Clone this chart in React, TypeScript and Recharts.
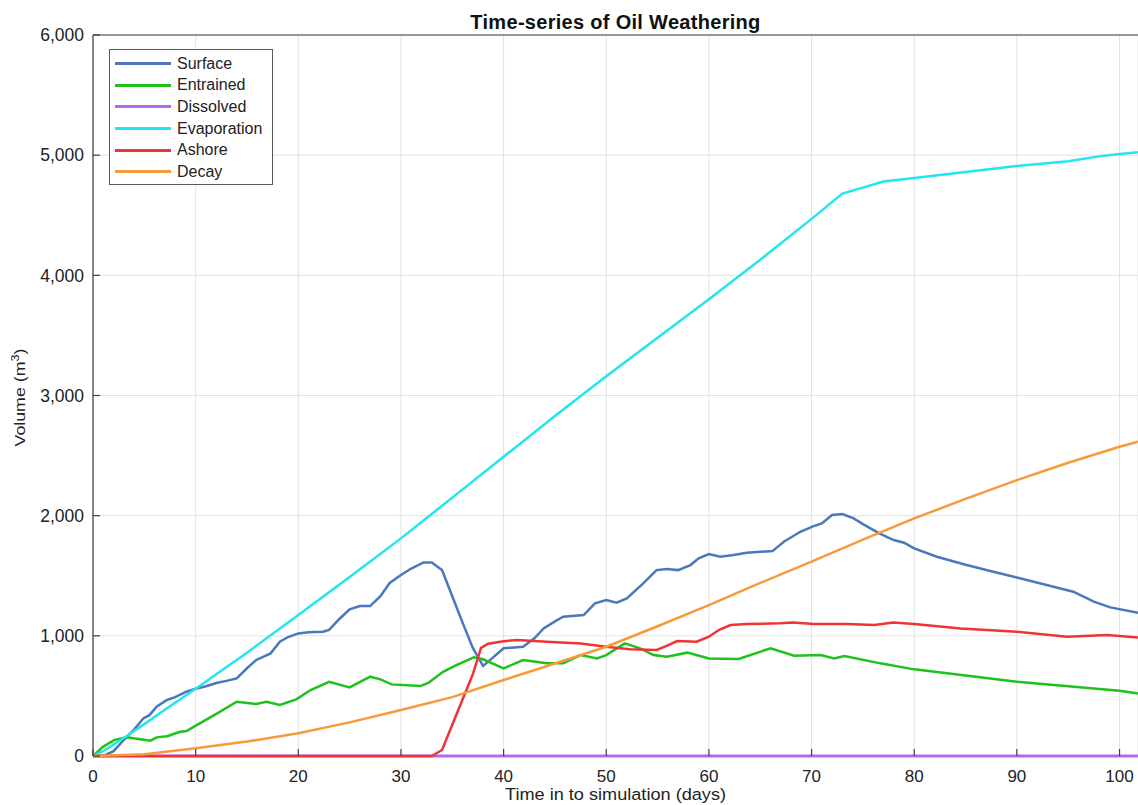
import { LineChart, Line, XAxis, YAxis, CartesianGrid, Legend, ReferenceLine, Label } from 'recharts';

// days / volumes (m3), per series
const surfaceDays = [0, 1, 2, 3, 4, 4.9, 5.5, 6.2, 7.2, 8, 9.1, 10, 11, 12.1, 13, 14, 15, 15.9, 17.3, 18.2, 19, 20, 21, 22.4, 23, 24, 25, 26, 27, 28, 28.9, 30, 31, 32.2, 33, 34, 35, 36, 37, 38, 38.7, 40, 41.9, 43, 43.9, 45, 45.8, 47.8, 48.9, 50, 51, 52, 53.6, 54.9, 55.9, 57, 58.2, 59, 60, 61.1, 62.4, 63.7, 65, 66.2, 67.3, 68.9, 70.2, 71, 72, 73, 74.1, 75, 76.6, 78, 79, 80, 82.2, 85.1, 87.7, 90, 92.9, 95.5, 97.5, 99.1, 101.8];
const surfaceVol = [0, 0, 40, 133, 220, 313, 340, 410, 466, 490, 535, 560, 580, 610, 625, 646, 730, 799, 854, 951, 990, 1020, 1030, 1034, 1050, 1140, 1220, 1248, 1248, 1330, 1440, 1506, 1560, 1611, 1611, 1547, 1330, 1110, 900, 750, 800, 896, 909, 980, 1062, 1120, 1159, 1173, 1270, 1298, 1276, 1312, 1437, 1547, 1556, 1547, 1589, 1645, 1680, 1658, 1672, 1691, 1700, 1705, 1783, 1866, 1913, 1936, 2005, 2013, 1977, 1930, 1853, 1797, 1775, 1728, 1658, 1589, 1533, 1486, 1423, 1367, 1284, 1237, 1192];

const entrainedDays = [0, 1, 2.1, 3.3, 4.6, 5.6, 6.2, 7.2, 8.5, 9.1, 10.4, 12.1, 14, 15.9, 16.9, 18.2, 19.8, 21.2, 23, 25, 27, 28, 29.1, 31.9, 32.7, 34.1, 35.4, 37.1, 38, 40, 41.9, 44.2, 45.8, 47.5, 49.1, 50, 51.8, 53.3, 54.6, 55.9, 57.9, 60, 62.9, 66, 68.3, 70.9, 72.2, 73.2, 76.7, 80, 90, 100, 101.8];
const entrainedVol = [0, 78, 133, 155, 139, 128, 155, 165, 202, 208, 272, 355, 452, 432, 452, 424, 471, 549, 618, 571, 660, 638, 596, 582, 610, 701, 757, 821, 805, 729, 799, 771, 771, 840, 812, 840, 937, 896, 840, 826, 860, 812, 808, 896, 835, 840, 812, 832, 771, 721, 618, 543, 521];

const dissolvedDays = [0, 20, 40, 60, 80, 101.8];
const dissolvedVol = [0, 0, 0, 0, 0, 0];

const evaporationDays = [0, 1, 2, 3, 5, 7, 10, 15, 20, 25, 30, 35, 40, 45, 50, 55, 60, 65, 70, 73, 75, 77, 80, 85, 90, 95, 98, 100, 101.8];
const evaporationVol = [0, 40, 95, 150, 265, 385, 560, 860, 1173, 1490, 1811, 2150, 2490, 2830, 3160, 3480, 3800, 4130, 4470, 4680, 4730, 4780, 4810, 4860, 4910, 4950, 4990, 5010, 5025];

const ashoreDays = [0, 33, 34, 35, 36, 37, 37.8, 38.5, 40, 41.3, 44.2, 47.5, 50, 52.3, 54.9, 56, 56.9, 58.8, 60, 61, 62.1, 63.7, 66.9, 68.2, 70.2, 73.5, 76.1, 78, 80, 84.5, 90, 94.9, 98.8, 101.8];
const ashoreVol = [0, 0, 50, 260, 470, 680, 900, 935, 955, 965, 951, 937, 909, 888, 882, 920, 957, 951, 993, 1050, 1090, 1098, 1104, 1110, 1098, 1098, 1090, 1110, 1098, 1062, 1034, 993, 1007, 987];

const decayDays = [0, 5, 10, 15, 20, 25, 30, 35, 40, 45, 50, 55, 60, 65, 70, 75, 80, 85, 90, 95, 100, 101.8];
const decayVol = [0, 15, 64, 120, 189, 280, 383, 490, 632, 770, 909, 1080, 1256, 1440, 1617, 1800, 1977, 2140, 2296, 2440, 2573, 2615];

const X_TICKS = [0, 10, 20, 30, 40, 50, 60, 70, 80, 90, 100];
const Y_TICKS = [0, 1000, 2000, 3000, 4000, 5000, 6000];

const pts = (days: number[], vals: number[]) => days.map((d, i) => ({ day: d, v: vals[i] }));

const SERIES = [
  { name: 'Surface', color: '#4a78bb', data: pts(surfaceDays, surfaceVol) },
  { name: 'Entrained', color: '#1fc11b', data: pts(entrainedDays, entrainedVol) },
  { name: 'Dissolved', color: '#b468f2', data: pts(dissolvedDays, dissolvedVol) },
  { name: 'Evaporation', color: '#22e6ef', data: pts(evaporationDays, evaporationVol) },
  { name: 'Ashore', color: '#ef3434', data: pts(ashoreDays, ashoreVol) },
  { name: 'Decay', color: '#f79a3a', data: pts(decayDays, decayVol) },
];

const FONT = '"Liberation Sans", Arial, sans-serif';
const AXIS = '#404040';

const fmt = (v: number) => v.toLocaleString('en-US');

function XTick(props: any) {
  const { x, y, payload } = props;
  return (
    <g>
      <line x1={x} x2={x} y1={y} y2={y - 7} stroke={AXIS} strokeWidth={1.2} />
      <text x={x} y={y + 26} textAnchor="middle" fontFamily={FONT} fontSize={17} fill="#222">{payload.value}</text>
    </g>
  );
}

function YTick(props: any) {
  const { x, y, payload } = props;
  return (
    <g>
      <line x1={x} x2={x + 7} y1={y} y2={y} stroke={AXIS} strokeWidth={1.2} />
      <text x={x - 9} y={y} dy="0.36em" textAnchor="end" fontFamily={FONT} fontSize={17.5} fill="#222">{fmt(payload.value)}</text>
    </g>
  );
}

function LegendBox() {
  return (
    <div style={{ width: 164, height: 136, border: '1px solid #5a5a5a', background: '#fff', boxSizing: 'border-box', paddingTop: 3 }}>
      {SERIES.map((s) => (
        <div key={s.name} style={{ display: 'flex', alignItems: 'center', height: 21.6 }}>
          <div style={{ width: 56, height: 3, background: s.color, marginLeft: 5, marginRight: 6 }} />
          <span style={{ fontFamily: FONT, fontSize: 16, color: '#222' }}>{s.name}</span>
        </div>
      ))}
    </div>
  );
}

export default function App() {
  return (
    <div style={{ position: 'absolute', left: 0, top: 0, width: 1138, height: 805, background: '#fff', overflow: 'hidden' }}>
      <div style={{ position: 'absolute', left: 93, width: 1045, top: 12, textAlign: 'center', fontFamily: FONT, fontWeight: 'bold', fontSize: 20, letterSpacing: 0.3, color: '#111', lineHeight: '20px' }}>
        Time-series of Oil Weathering
      </div>
      <LineChart width={1138} height={805} margin={{ top: 35, right: 0, bottom: 0, left: 0 }}>
        <CartesianGrid stroke="#e2e2e2" strokeWidth={1} />
        <XAxis type="number" dataKey="day" domain={[0, 101.8]} ticks={X_TICKS} interval={0}
          height={49} axisLine={false} tickLine={false} tickSize={0} tickMargin={0} tick={<XTick />}>
          <Label content={(p: any) => {
            const vb = p.viewBox;
            return (
              <text x={0} y={0} transform={`translate(${vb.x + vb.width / 2},${vb.y + 44}) scale(1.1,1)`} textAnchor="middle"
                fontFamily={FONT} fontSize={16.5} fill="#222">Time in to simulation (days)</text>
            );
          }} />
        </XAxis>
        <YAxis type="number" domain={[0, 6000]} ticks={Y_TICKS} interval={0} width={93}
          axisLine={{ stroke: AXIS, strokeWidth: 1.2 }} tickLine={false} tickSize={0} tickMargin={0} tick={<YTick />}>
          <Label content={(p: any) => {
            const vb = p.viewBox;
            const cx = vb.x + 25;
            const cy = vb.y + vb.height / 2 + 2;
            return (
              <text x={0} y={0} transform={`translate(${cx},${cy}) rotate(-90) scale(1.27,1)`} textAnchor="middle"
                fontFamily={FONT} fontSize={14} fill="#222">
                Volume (m<tspan dy={-6} fontSize={10}>3</tspan><tspan dy={6}>)</tspan>
              </text>
            );
          }} />
        </YAxis>
        <ReferenceLine y={6000} stroke={AXIS} strokeWidth={1.2} />
        <ReferenceLine y={0} stroke={AXIS} strokeWidth={1.2} />
        {SERIES.map((s) => (
          <Line key={s.name} data={s.data} dataKey="v" name={s.name} type="linear" stroke={s.color}
            strokeWidth={s.name === 'Dissolved' ? 3 : 2.5}
            dot={false} activeDot={false} isAnimationActive={false} />
        ))}
        <Legend layout="vertical" align="center" verticalAlign="middle" content={() => <LegendBox />}
          wrapperStyle={{ left: 109, top: 49, width: 164, height: 136 }} />
      </LineChart>
    </div>
  );
}
